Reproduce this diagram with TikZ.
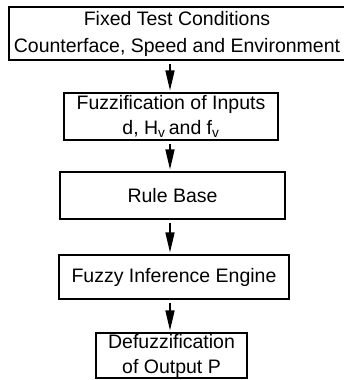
\documentclass[tikz,border=0pt]{standalone}
\usepackage{fontspec}
\setmainfont{Liberation Sans}
\usepackage{tikz}
\usetikzlibrary{arrows.meta}
\tikzstyle{BoxFlow}=[draw,line width=1.1pt,inner sep=0pt,align=center,
font=\fontsize{19.5}{25}\selectfont]
\tikzstyle{ArrowFlow}=[line width=1.4pt,-{Triangle[length=20pt,width=9pt]},
shorten <=3pt,shorten >=2pt]
\begin{document}
\begin{tikzpicture}[x=1pt,y=-1pt]
        \useasboundingbox(0,0)rectangle(343,380);
        \node[BoxFlow,minimum width=336pt,minimum height=53pt,
            font=\fontsize{19.5}{27}\selectfont](cond)at(177,33.5)
            {Fixed Test Conditions\\Counterface, Speed and Environment};
        \node[BoxFlow,minimum width=214pt,minimum height=47pt](fuzz)at(171,116.5)
            {Fuzzification of Inputs\\d, H\textsubscript{v}\,and f\textsubscript{v}};
        \node[BoxFlow,minimum width=225pt,minimum height=47pt](rule)at(172.5,195.5)
            {Rule Base};
        \node[BoxFlow,minimum width=230pt,minimum height=44pt](infer)at(174,277)
            {Fuzzy Inference Engine};
        \node[BoxFlow,minimum width=151pt,minimum height=45pt](defuzz)at(171.5,355.5)
            {Defuzzification\\of Output P};
        \draw[ArrowFlow](cond.south-|170,0)--(fuzz.north-|170,0);
        \draw[ArrowFlow](fuzz.south-|170,0)--(rule.north-|170,0);
        \draw[ArrowFlow](rule.south-|170,0)--(infer.north-|170,0);
        \draw[ArrowFlow](infer.south-|170,0)--(defuzz.north-|170,0);
    \end{tikzpicture}
\end{document}
